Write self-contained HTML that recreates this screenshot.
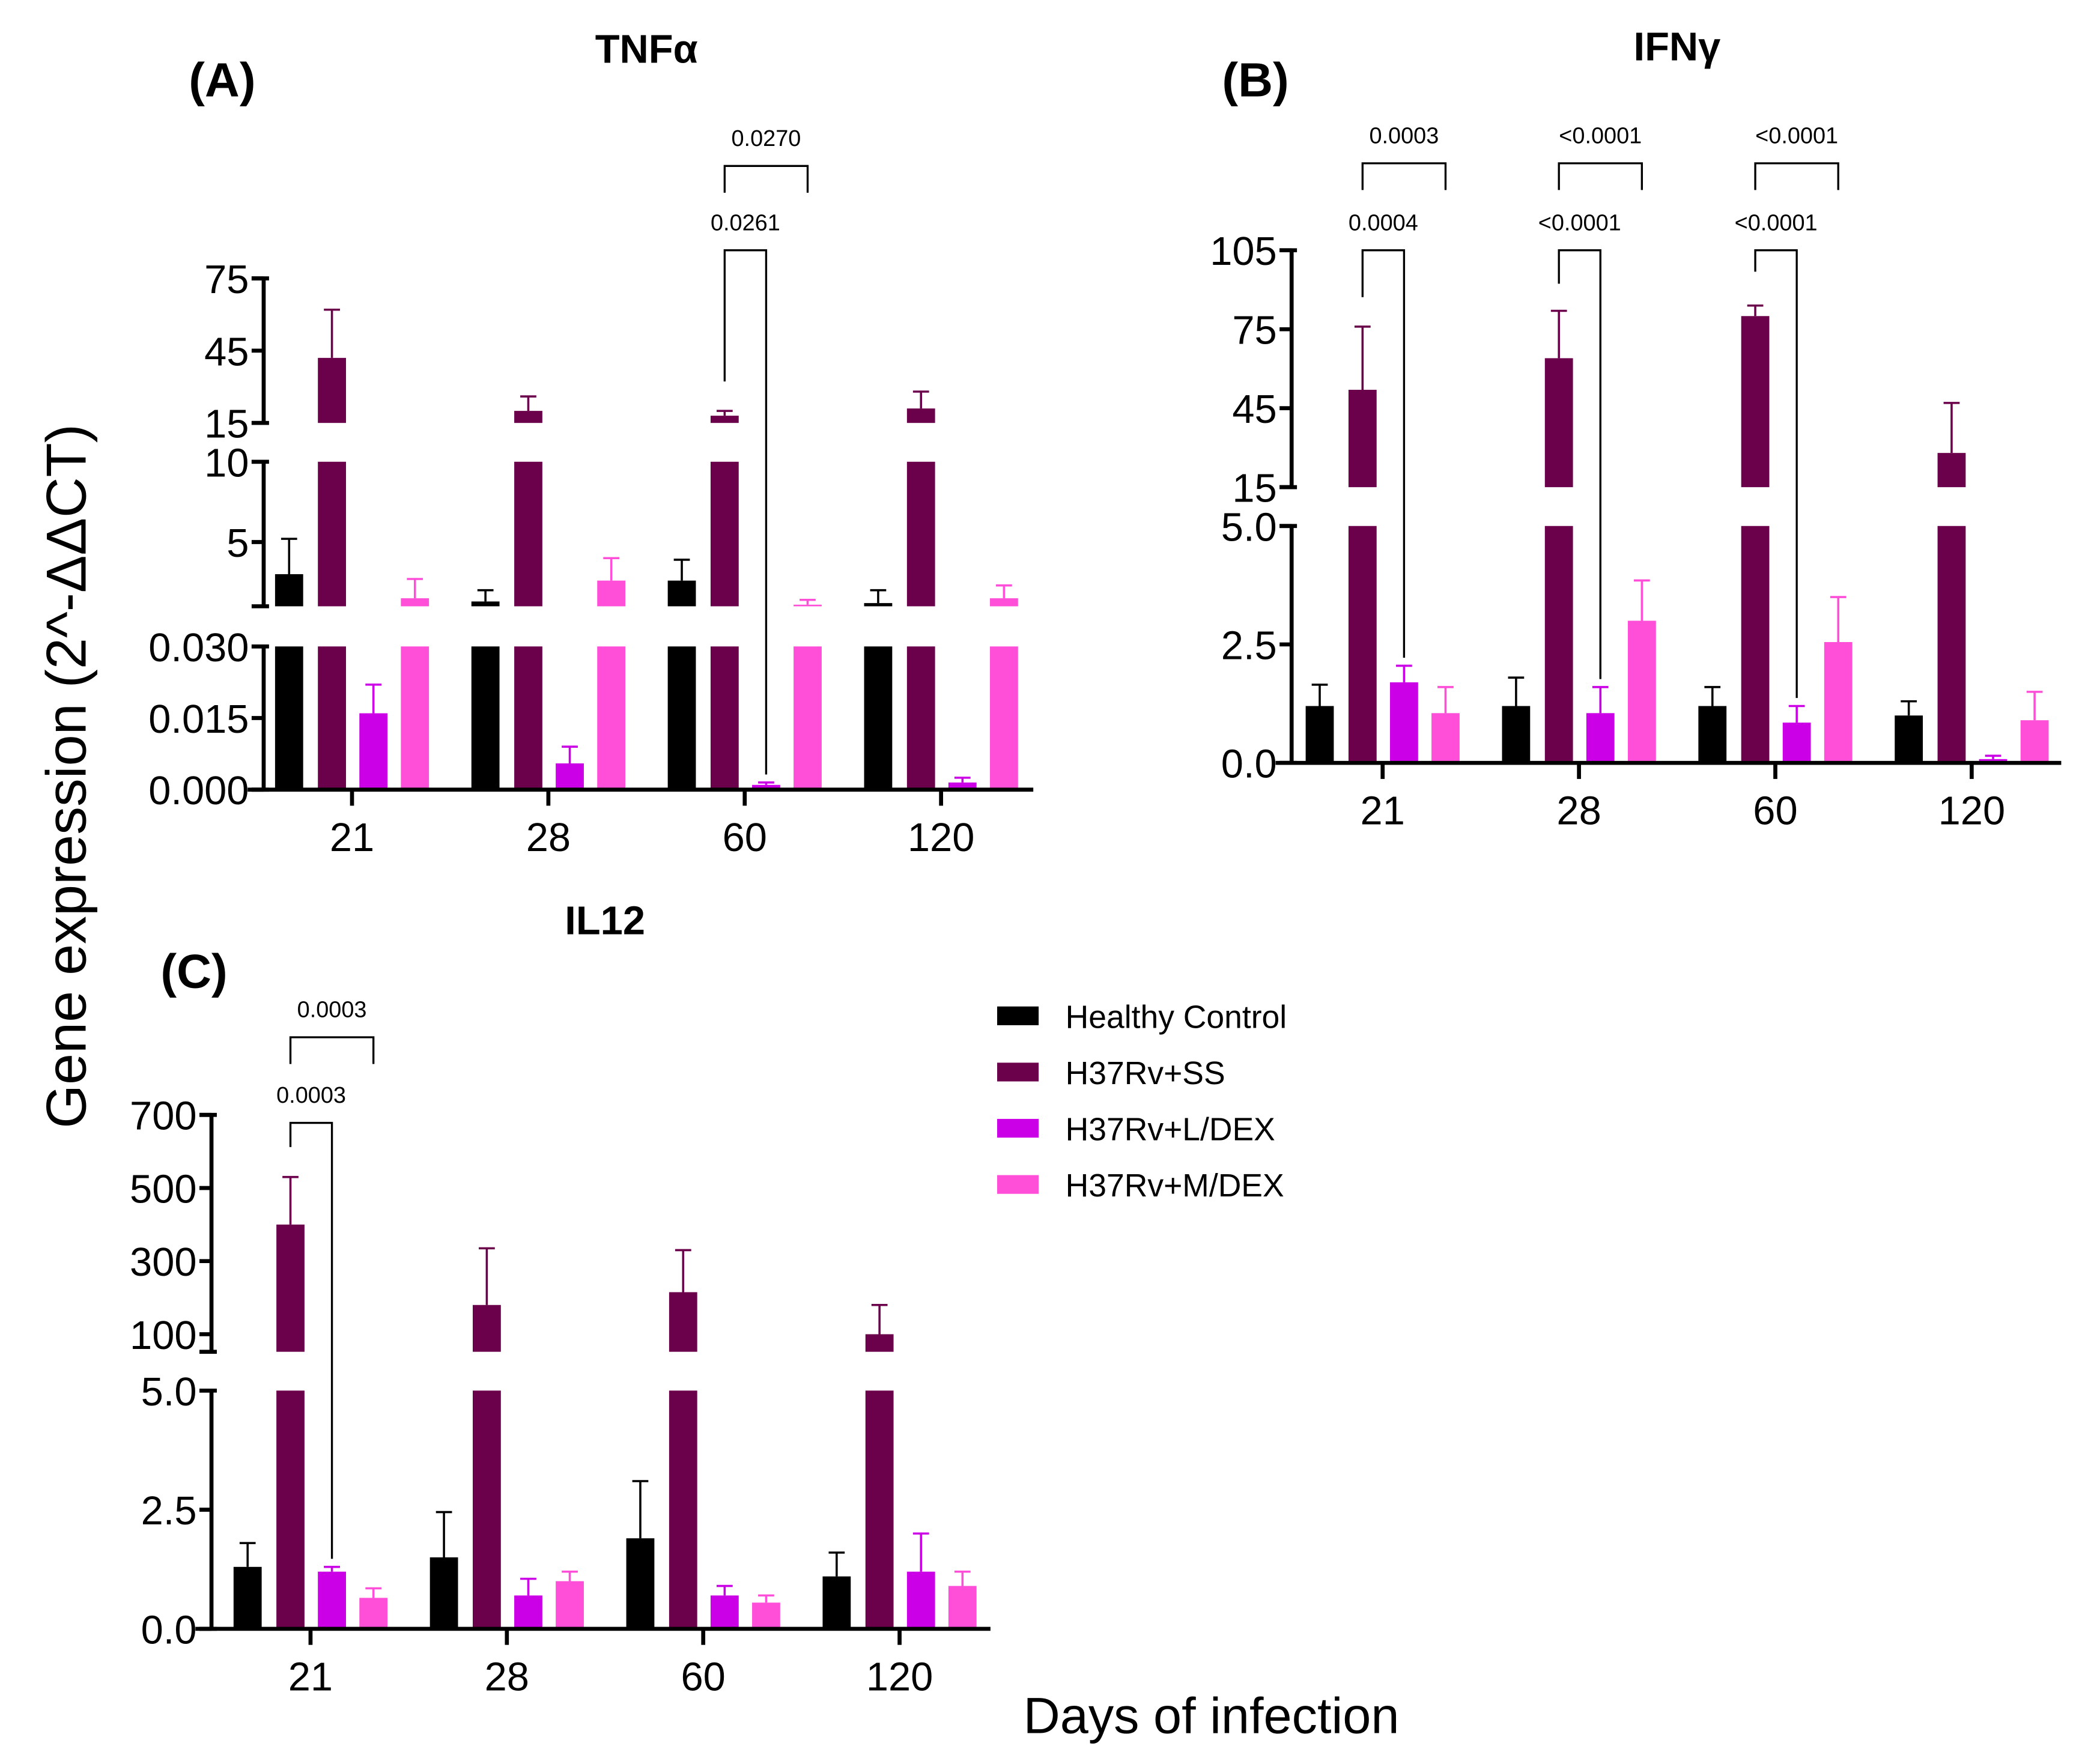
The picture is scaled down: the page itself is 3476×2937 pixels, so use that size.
<!DOCTYPE html>
<html><head><meta charset="utf-8"><style>
html,body{margin:0;padding:0;background:#fff;}
svg{display:block;}
text{font-family:"Liberation Sans",sans-serif;}
</style></head><body>
<svg id="fig" width="3476" height="2937" viewBox="0 0 1560 1318" preserveAspectRatio="none" xmlns="http://www.w3.org/2000/svg">
<g id="static">
<text x="166" y="72" font-size="36" font-weight="bold" text-anchor="middle">(A)</text>
<text x="483" y="47" font-size="30" font-weight="bold" text-anchor="middle">TNFα</text>
<text x="938" y="72" font-size="36" font-weight="bold" text-anchor="middle">(B)</text>
<text x="1253" y="45" font-size="30" font-weight="bold" text-anchor="middle">IFNγ</text>
<text x="452" y="698" font-size="30" font-weight="bold" text-anchor="middle">IL12</text>
<text x="145" y="738" font-size="36" font-weight="bold" text-anchor="middle">(C)</text>
<text transform="translate(64,580) rotate(-90)" font-size="42" text-anchor="middle">Gene expression (2^-ΔΔCT)</text>
<text x="905" y="1295" font-size="38" text-anchor="middle">Days of infection</text>
<g>
<rect x="745" y="752" width="31" height="14" fill="#000"/>
<text x="796" y="768" font-size="24">Healthy Control</text>
<rect x="745" y="794" width="31" height="14" fill="#6b004b"/>
<text x="796" y="810" font-size="24">H37Rv+SS</text>
<rect x="745" y="836" width="31" height="14" fill="#cc00e6"/>
<text x="796" y="852" font-size="24">H37Rv+L/DEX</text>
<rect x="745" y="878" width="31" height="14" fill="#ff4fd8"/>
<text x="796" y="894" font-size="24">H37Rv+M/DEX</text>
</g>
</g>
</svg>
<script>
const categories = ["21","28","60","120"];
const seriesNames = ["Healthy Control","H37Rv+SS","H37Rv+L/DEX","H37Rv+M/DEX"];
// Panel A TNFa
const tnfHC = [3.0,1.3,2.6,1.2];
const tnfHCerr = [5.2,2.0,3.9,2.0];
const tnfSS = [42,20,18,21];
const tnfSSerr = [62,26,20,28];
const tnfL = [0.016,0.0055,0.001,0.0015];
const tnfLerr = [0.022,0.009,0.0015,0.0025];
const tnfM = [1.5,2.6,1.1,1.5];
const tnfMerr = [2.7,4.0,1.4,2.3];
const tnfTicks = ["0.000","0.015","0.030","5","10","15","45","75"];
// Panel B IFNg
const ifnHC = [1.2,1.2,1.2,1.0];
const ifnHCerr = [1.65,1.8,1.6,1.3];
const ifnSS = [52,64,80,28];
const ifnSSerr = [76,82,84,47];
const ifnL = [1.7,1.05,0.85,0.08];
const ifnLerr = [2.05,1.6,1.2,0.15];
const ifnM = [1.05,3.0,2.55,0.9];
const ifnMerr = [1.6,3.85,3.5,1.5];
const ifnTicks = ["0.0","2.5","5.0","15","45","75","105"];
// Panel C IL12
const il12HC = [1.3,1.5,1.9,1.1];
const il12HCerr = [1.8,2.45,3.1,1.6];
const il12SS = [400,180,215,100];
const il12SSerr = [530,335,330,180];
const il12L = [1.2,0.7,0.7,1.2];
const il12Lerr = [1.3,1.05,0.9,2.0];
const il12M = [0.65,1.0,0.55,0.9];
const il12Merr = [0.85,1.2,0.7,1.2];
const il12Ticks = ["0.0","2.5","5.0","100","300","500","700"];

const colors = ["#000000","#6b004b","#cc00e6","#ff4fd8"];
const NS = "http://www.w3.org/2000/svg";
const svg = document.getElementById("fig");
function mk(tag, attrs, parent){const e=document.createElementNS(NS,tag);for(const k in attrs)e.setAttribute(k,attrs[k]);(parent||svg).appendChild(e);return e;}

function drawPanel(p){
  const g = mk("g",{});
  
  
  const segs = p.segs;
  function y(v){
    for(const s of segs){ if(v<=s.hi || s===segs[segs.length-1]){ const vv=Math.max(v,s.lo); return s.y0 - (Math.min(vv,s.hi)-s.lo)/(s.hi-s.lo)*(s.y0-s.y1);} }
  }
  function xc(i){return p.x0 + i*p.dx;}
  const offs=[-47,-15,16,47], bw=21;
  const data=[p.hc,p.ss,p.l,p.m], errs=[p.hce,p.sse,p.le,p.me];
  data.forEach((arr,si)=>{
    arr.forEach((v,ci)=>{
      const cx = xc(ci)+offs[si];
      segs.forEach(s=>{
        if(v>s.lo){
          const top = s.y0 - (Math.min(v,s.hi)-s.lo)/(s.hi-s.lo)*(s.y0-s.y1);
          const r = mk("rect",{x:cx-bw/2,y:top,width:bw,height:Math.max(s.y0-top,0.8),fill:colors[si]},g);
          
          
        }
      });
      const e = errs[si][ci];
      const ey=y(e), vy=y(v);
      const ln = mk("path",{d:`M${cx},${vy}V${ey}M${cx-6},${ey}H${cx+6}`,stroke:colors[si],"stroke-width":1.6,fill:"none"},g);
      
      
    });
  });
  segs.forEach(s=>{
    const a = mk("path",{d:`M${p.ax},${s.y0}V${s.y1}M${p.ax-9},${s.y0}H${p.ax+4}M${p.ax-9},${s.y1}H${p.ax+4}`,stroke:"#000","stroke-width":3,fill:"none"},g);
    
    
  });
  p.ticks.forEach(t=>{
    const yy=y(parseFloat(t));
    mk("path",{d:`M${p.ax-9},${yy}H${p.ax}`,stroke:"#000","stroke-width":3},g);
    const tx = mk("text",{x:p.ax-11,y:yy+11,"font-size":30,"text-anchor":"end"},g);
    tx.textContent=t;
    
    
  });
  const xa = mk("path",{d:`M${p.ax-12},${segs[0].y0}H${p.axEnd}`,stroke:"#000","stroke-width":3},g);
  
  
  categories.forEach((c,i)=>{
    mk("path",{d:`M${xc(i)},${segs[0].y0}V${segs[0].y0+12}`,stroke:"#000","stroke-width":3},g);
    const t = mk("text",{x:xc(i),y:segs[0].y0+46,"font-size":30,"text-anchor":"middle"},g);
    t.textContent=c;
    
    
  });
  (p.brackets||[]).forEach(b=>{
    const ci=categories.indexOf(b.cat);
    const xs=xc(ci)+offs[1], xl=xc(ci)+offs[2], xm=xc(ci)+offs[3];
    const up = mk("path",{d:`M${xs},${b.uy+20}V${b.uy}H${xm}V${b.uy+20}`,stroke:"#000","stroke-width":1.5,fill:"none"},g);
    
    
    const tu = mk("text",{x:(xs+xm)/2,y:b.uy-15,"font-size":17,"text-anchor":"middle"},g);
    tu.textContent=b.upper;
    
    
    const lo = mk("path",{d:`M${xs},${b.ly+(b.leftLen)}V${b.ly}H${xl}V${y(p.le[ci])-6}`,stroke:"#000","stroke-width":1.5,fill:"none"},g);
    
    
    const tl = mk("text",{x:(xs+xl)/2,y:b.ly-15,"font-size":17,"text-anchor":"middle"},g);
    tl.textContent=b.lower;
    
    
  });
}

drawPanel({name:"panel-a-tnf",ax:197,axEnd:772,x0:263,dx:146.7,
  segs:[{lo:0,hi:0.03,y0:590,y1:483},{lo:1,hi:10,y0:453,y1:345},{lo:15,hi:75,y0:316,y1:208}],
  hc:tnfHC,hce:tnfHCerr,ss:tnfSS,sse:tnfSSerr,l:tnfL,le:tnfLerr,m:tnfM,me:tnfMerr,ticks:tnfTicks,
  brackets:[{cat:"60",uy:124,ly:187,leftLen:98,upper:"0.0270",lower:"0.0261"}]});
drawPanel({name:"panel-b-ifn",ax:965,axEnd:1540,x0:1033,dx:146.7,
  segs:[{lo:0,hi:5,y0:570,y1:393},{lo:15,hi:105,y0:364,y1:187}],
  hc:ifnHC,hce:ifnHCerr,ss:ifnSS,sse:ifnSSerr,l:ifnL,le:ifnLerr,m:ifnM,me:ifnMerr,ticks:ifnTicks,
  brackets:[{cat:"21",uy:122,ly:187,leftLen:35,upper:"0.0003",lower:"0.0004"},
            {cat:"28",uy:122,ly:187,leftLen:25,upper:"<0.0001",lower:"<0.0001"},
            {cat:"60",uy:122,ly:187,leftLen:16,upper:"<0.0001",lower:"<0.0001"}]});
drawPanel({name:"panel-c-il12",ax:158,axEnd:740,x0:232,dx:146.7,
  segs:[{lo:0,hi:5,y0:1217,y1:1039},{lo:52,hi:700,y0:1010,y1:833}],
  hc:il12HC,hce:il12HCerr,ss:il12SS,sse:il12SSerr,l:il12L,le:il12Lerr,m:il12M,me:il12Merr,ticks:il12Ticks,
  brackets:[{cat:"21",uy:775,ly:839,leftLen:18,upper:"0.0003",lower:"0.0003"}]});
</script>
</body></html>
